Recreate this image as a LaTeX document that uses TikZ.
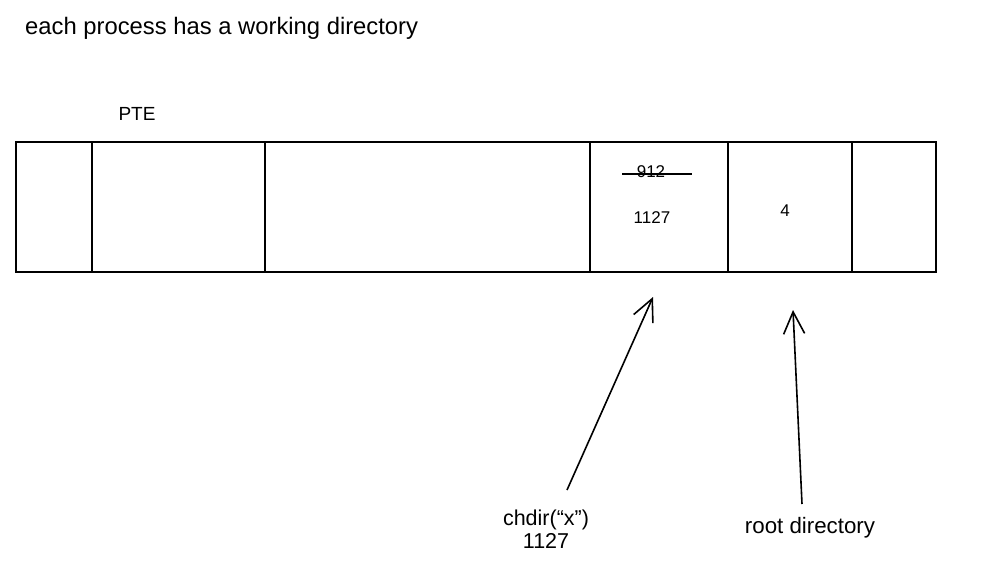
\documentclass[tikz,border=0pt]{standalone}
\usepackage{fontspec}
\setmainfont{Liberation Sans}
\usetikzlibrary{arrows.meta}
\begin{document}
\begin{tikzpicture}[x=1pt,y=-1pt,
  cellbox/.style={draw,line width=1.8pt,rectangle,inner sep=0pt,minimum height=130pt,anchor=north west},
  lbl/.style={inner sep=0pt,font=\fontsize{21.5}{25}\selectfont},
  small/.style={inner sep=0pt,font=\fontsize{17}{20}\selectfont},
  ptr/.style={line width=1.6pt,-{Straight Barb[length=22pt,width=21pt,line width=1.6pt]}}]
\useasboundingbox (0,0) rectangle (982,576);
\node[inner sep=0pt,anchor=west,font=\fontsize{23.8}{28}\selectfont] (title) at (25,28) {each process has a working directory};
\node[inner sep=0pt,font=\fontsize{19}{22}\selectfont] (pte) at (137,114) {PTE};
\node[cellbox,minimum width=76pt] (c1) at (15,141) {};
\node[cellbox,minimum width=173pt] (c2) at (91,141) {};
\node[cellbox,minimum width=325pt] (c3) at (264,141) {};
\node[cellbox,minimum width=138pt] (c4) at (589,141) {};
\node[cellbox,minimum width=124pt] (c5) at (727,141) {};
\node[cellbox,minimum width=84pt] (c6) at (851,141) {};
\node[small] (old) at (651,172) {912};
\coordinate (sl) at (622,174);
\coordinate (sr) at (692,174);
\draw[line width=1.6pt] (sl) -- (sr);
\node[small] (new) at (652,218) {1127};
\node[small] (root) at (785,211) {4};
\node[lbl,align=center] (chdir) at (546,529) {chdir(“x”)\\[-2pt]1127};
\node[inner sep=0pt,font=\fontsize{22.3}{26}\selectfont] (rootdir) at (810,528) {root directory};
\coordinate (t1) at (567,490);
\coordinate (h1) at (653,297);
\coordinate (t2) at (802,504);
\coordinate (h2) at (793,310);
\draw[ptr] (t1) -- (h1);
\draw[ptr] (t2) -- (h2);
\end{tikzpicture}
\end{document}
